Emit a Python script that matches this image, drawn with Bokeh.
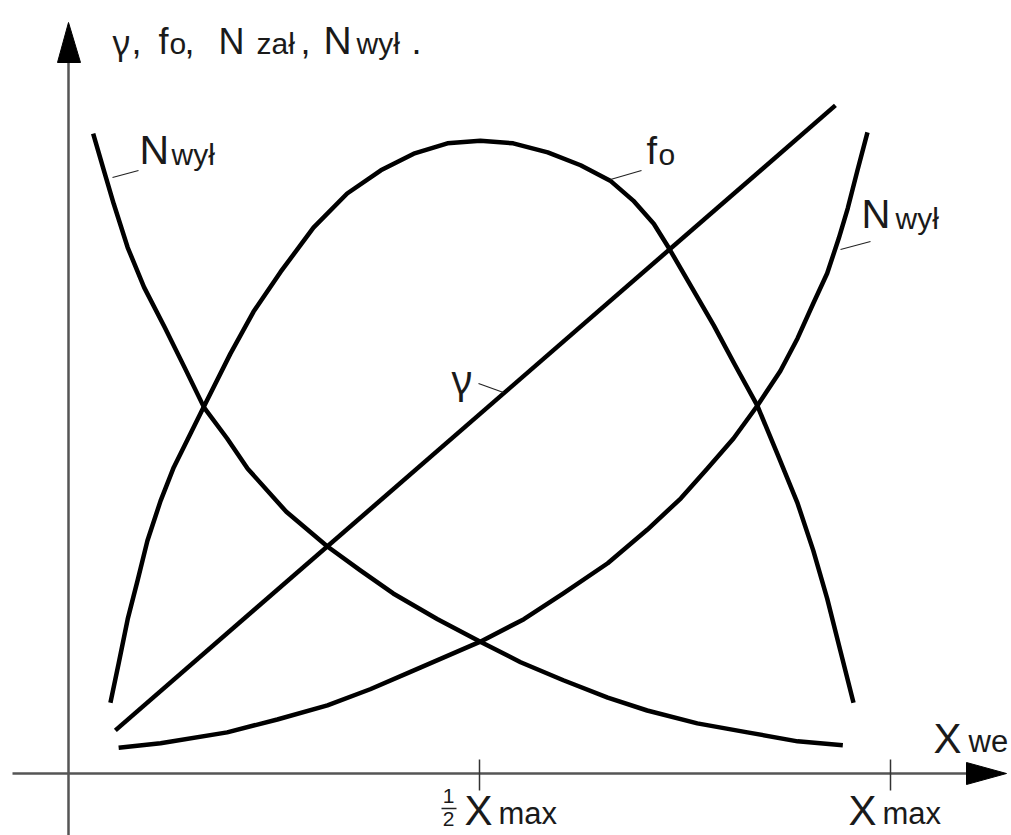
from bokeh.plotting import figure
from bokeh.models import Range1d
from bokeh.core.properties import value
from bokeh.embed import file_html
from bokeh.resources import INLINE

# ---- data (x as fraction of X_max, y in relative units) ----
x_n_wyl_dec = [0.030, 0.043, 0.055, 0.072, 0.092, 0.117, 0.141, 0.165, 0.193, 0.218, 0.265, 0.315,
               0.355, 0.395, 0.449, 0.501, 0.550, 0.602, 0.656, 0.704, 0.765, 0.826, 0.887, 0.942]
y_n_wyl_dec = [0.995, 0.938, 0.886, 0.818, 0.756, 0.694, 0.632, 0.569, 0.521, 0.474, 0.407, 0.353,
               0.316, 0.280, 0.240, 0.205, 0.173, 0.145, 0.118, 0.098, 0.078, 0.064, 0.050, 0.044]

x_fo = [0.051, 0.061, 0.072, 0.084, 0.096, 0.112, 0.128, 0.164, 0.197, 0.225, 0.258, 0.298, 0.339,
        0.380, 0.420, 0.461, 0.501, 0.541, 0.583, 0.623, 0.659, 0.687, 0.712, 0.730, 0.785, 0.811,
        0.838, 0.863, 0.887, 0.906, 0.923, 0.939, 0.955]
y_fo = [0.110, 0.171, 0.240, 0.300, 0.362, 0.424, 0.476, 0.569, 0.653, 0.718, 0.780, 0.849, 0.902,
        0.938, 0.964, 0.980, 0.984, 0.980, 0.966, 0.946, 0.922, 0.891, 0.855, 0.818, 0.697, 0.635,
        0.572, 0.495, 0.420, 0.347, 0.272, 0.191, 0.110]

x_gamma = [0.057, 0.933]
y_gamma = [0.067, 1.039]

x_n_wyl_inc = [0.061, 0.112, 0.193, 0.254, 0.315, 0.367, 0.416, 0.501, 0.554, 0.602, 0.656, 0.704,
               0.745, 0.777, 0.809, 0.838, 0.866, 0.887, 0.906, 0.923, 0.937, 0.948, 0.960, 0.972]
y_n_wyl_inc = [0.040, 0.047, 0.064, 0.084, 0.106, 0.131, 0.158, 0.205, 0.240, 0.280, 0.327, 0.379,
               0.428, 0.474, 0.521, 0.572, 0.626, 0.677, 0.731, 0.778, 0.832, 0.879, 0.939, 0.997]

tick_values = [0.5, 1.0]

# ---- layout helpers (page pixels -> data) ----
W, H = 1011, 835
X0_PX, XMAX_PX = 68, 890
Y0_PX, Y1_PX = 773, 130


def fx(px):
    return (px - X0_PX) / (XMAX_PX - X0_PX)


def fy(py):
    return (Y0_PX - py) / (Y0_PX - Y1_PX)


p = figure(width=W, height=H,
           x_range=Range1d(fx(0), fx(W)), y_range=Range1d(fy(H), fy(0)),
           output_backend="svg", toolbar_location=None, min_border=0,
           x_axis_location=None, y_axis_location=None)
p.grid.visible = False
p.outline_line_color = None
p.background_fill_color = "white"
p.border_fill_color = "white"

AX = "#555555"
# axes
p.line([fx(12), fx(968)], [0, 0], color=AX, line_width=2.5)
p.line([0, 0], [fy(840), fy(60)], color=AX, line_width=2.5)
p.patch([fx(966), fx(1006), fx(966)], [fy(762), 0, fy(784)], color="black")
p.patch([fx(57), 0, fx(80)], [fy(62), fy(22), fy(62)], color="black")
p.segment(x0=tick_values, x1=tick_values, y0=[fy(759)] * 2, y1=[fy(790)] * 2,
          color="#333333", line_width=1.5)

# curves
LW = 4.5
p.line(x_n_wyl_dec, y_n_wyl_dec, color="black", line_width=LW, line_join="round")
p.line(x_fo, y_fo, color="black", line_width=LW, line_join="round")
p.line(x_gamma, y_gamma, color="black", line_width=LW)
p.line(x_n_wyl_inc, y_n_wyl_inc, color="black", line_width=LW, line_join="round")

# leader lines for labels
leaders = [((112, 177), (138, 170)), ((610, 179), (641, 170)),
           ((840, 249), (870, 241)), ((478, 383), (503, 392))]
p.segment(x0=[fx(a[0]) for a, b in leaders], y0=[fy(a[1]) for a, b in leaders],
          x1=[fx(b[0]) for a, b in leaders], y1=[fy(b[1]) for a, b in leaders],
          color="#222222", line_width=1.2)

# fraction bar of 1/2
p.segment(x0=[fx(441)], x1=[fx(456)], y0=[fy(808)], y1=[fy(808)], color="#222222", line_width=1.5)

FONT = "Liberation Sans"
GFONT = "Noto Sans"
TXT = "#1a1a1a"
texts = [
    # title on the y axis
    ("γ", 112, 53, 34, "left", GFONT), (",", 131, 53, 36, "left", FONT),
    ("f", 158, 53, 36, "left", FONT), ("o", 169, 53, 30, "left", FONT),
    (",", 184, 53, 36, "left", FONT), ("N", 218, 53, 36, "left", FONT),
    ("zał", 256, 53, 30, "left", FONT), (",", 300, 53, 36, "left", FONT),
    ("N", 323, 53, 39, "left", FONT), ("wył", 356, 53, 30, "left", FONT),
    (".", 411, 53, 36, "left", FONT),
    # curve labels
    ("N", 139, 163, 41, "left", FONT), ("wył", 171, 164, 30, "left", FONT),
    ("f", 646, 163, 38, "left", FONT), ("o", 658, 164, 30, "left", FONT),
    ("N", 861, 227, 40, "left", FONT), ("wył", 895, 228, 30, "left", FONT),
    ("γ", 451, 392, 40, "left", GFONT),
    # axis labels
    ("X", 933, 752, 42, "left", FONT), ("we", 968, 752, 31, "left", FONT),
    ("X", 848, 824, 42, "left", FONT), ("max", 882, 824, 31, "left", FONT),
    ("1", 448, 803, 21, "center", FONT), ("2", 448, 826, 21, "center", FONT),
    ("X", 464, 824, 42, "left", FONT), ("max", 498, 824, 31, "left", FONT),
]
BASELINE_FIX = 0.34  # svg text sits lower than the intended baseline; lift by a fraction of size
for t, px, py, size, align, font in texts:
    p.text(x=[fx(px)], y=[fy(py - BASELINE_FIX * size)], text=[t], text_font=value(font),
           text_font_size=f"{size}px", text_baseline="alphabetic", text_align=align,
           text_color=TXT)

open("out.html", "w").write(file_html(p, INLINE))
